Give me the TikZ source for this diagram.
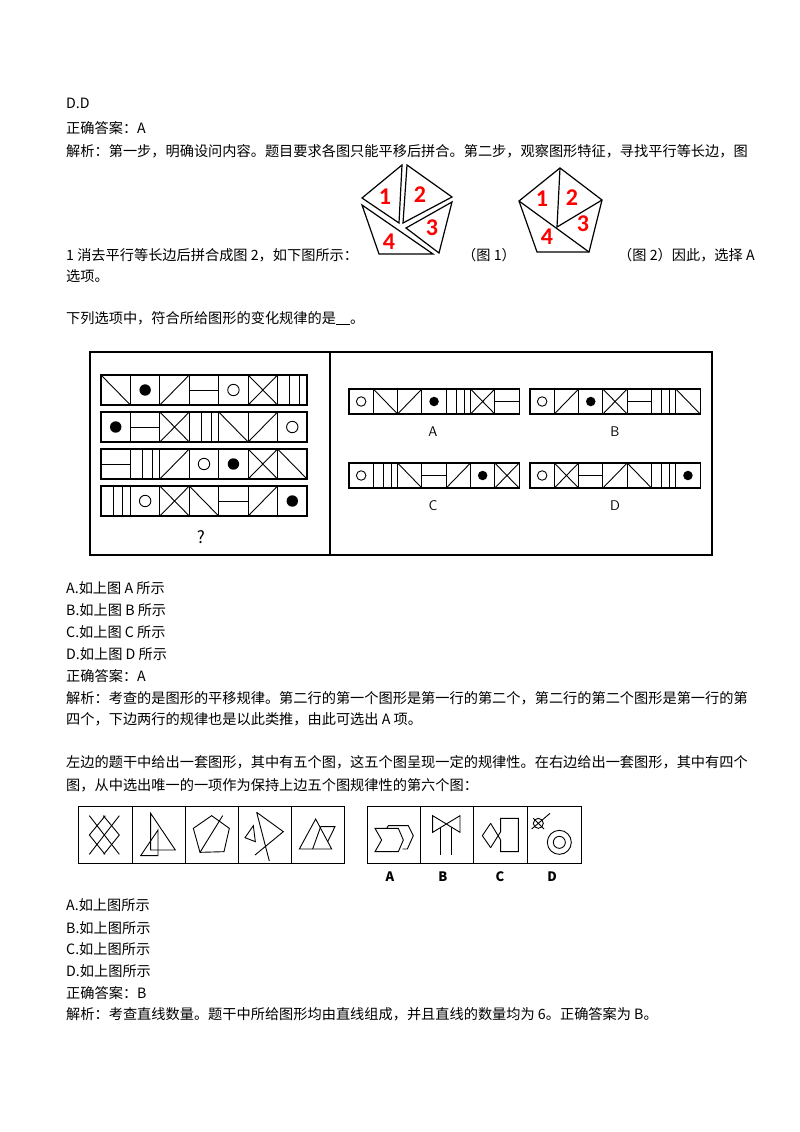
\documentclass[tikz,border=0pt]{standalone}
\usepackage{fontspec}
\setmainfont{Noto Sans CJK SC}
\newfontfamily\latf{Carlito}
\begin{document}
\begin{tikzpicture}[x=1pt,y=-1pt,
 txt/.style={anchor=west,inner sep=0pt,font=\fontsize{14.2}{16}\selectfont},
 ln/.style={line width=0.9pt},
 bx/.style={line width=1.1pt},
 red/.style={text=red,font=\latf\bfseries\fontsize{24}{24}\selectfont,inner sep=0pt},
 lab/.style={inner sep=0pt,font=\sffamily\fontsize{14}{14}\selectfont},
 slab/.style={inner sep=0pt,font=\rmfamily\bfseries\fontsize{13}{13}\selectfont}]
\useasboundingbox (0,0) rectangle (800,1132);
\fill[white] (0,0) rectangle (800,1132);
% text
\node[txt] (t1) at (66,103) {D.D};
\node[txt] (t2) at (66,128) {正确答案：A};
\node[txt] (t3) at (66,151) {解析：第一步，明确设问内容。题目要求各图只能平移后拼合。第二步，观察图形特征，寻找平行等长边，图};
\node[txt] (t4) at (66,255) {1 消去平行等长边后拼合成图 2，如下图所示：};
\node[txt] (t4b) at (462,255) {（图 1）};
\node[txt] (t4c) at (618,255) {（图 2）因此，选择 A};
\node[txt] (t5) at (66,276) {选项。};
\node[txt] (t6) at (66,318) {下列选项中，符合所给图形的变化规律的是\underline{\hspace{14pt}}。};
\node[txt] (a1) at (66,588) {A.如上图 A 所示};
\node[txt] (a2) at (66,610) {B.如上图 B 所示};
\node[txt] (a3) at (66,632) {C.如上图 C 所示};
\node[txt] (a4) at (66,654) {D.如上图 D 所示};
\node[txt] (a5) at (66,676) {正确答案：A};
\node[txt] (a6) at (66,698) {解析：考查的是图形的平移规律。第二行的第一个图形是第一行的第二个，第二行的第二个图形是第一行的第};
\node[txt] (a7) at (66,719) {四个，下边两行的规律也是以此类推，由此可选出 A 项。};
\node[txt] (b1) at (66,762) {左边的题干中给出一套图形，其中有五个图，这五个图呈现一定的规律性。在右边给出一套图形，其中有四个};
\node[txt] (b2) at (66,785) {图，从中选出唯一的一项作为保持上边五个图规律性的第六个图：};
\node[txt] (c1) at (66,905) {A.如上图所示};
\node[txt] (c2) at (66,928) {B.如上图所示};
\node[txt] (c3) at (66,949) {C.如上图所示};
\node[txt] (c4) at (66,971) {D.如上图所示};
\node[txt] (c5) at (66,993) {正确答案：B};
\node[txt] (c6) at (66,1014) {解析：考查直线数量。题干中所给图形均由直线组成，并且直线的数量均为 6。正确答案为 B。};
% pentagon fig 1
\begin{scope}[line width=1.2pt,line join=miter]
\draw (362,198)--(402,165)--(399,223)--cycle;
\draw (407,165)--(452,197)--(403,223)--cycle;
\draw (452,202)--(439,253)--(406,228)--cycle;
\draw (362,205)--(433,254)--(379,254)--cycle;
\node[red] (n1) at (385,197) {1};
\node[red] (n2) at (420,195) {2};
\node[red] (n3) at (432,228) {3};
\node[red] (n4) at (389,242) {4};
% fig 2
\draw (560,168)--(602,200)--(589,252)--(537,252)--(519,201)--cycle;
\draw (560,168)--(557,227)--(602,200);
\draw (519,201)--(589,252);
\node[red] (m1) at (542,199) {1};
\node[red] (m2) at (572,198) {2};
\node[red] (m3) at (583,224) {3};
\node[red] (m4) at (547,237) {4};
\end{scope}
% grid figure
\draw[line width=1.6pt] (90,352) rectangle (712,555);
\draw[line width=1.6pt] (330,352)--(330,555);
\newcommand{\cellpat}[5]{% #1 type, #2 x0, #3 y0, #4 w, #5 h
 \pgfmathsetmacro\cxa{#2+#4/2}\pgfmathsetmacro\cya{#3+#5/2}%
 \pgfmathsetmacro\cyb{#3+#5}\pgfmathsetmacro\cxl{#2+#4*0.42}\pgfmathsetmacro\cxr{#2+#4*0.74}%
 \pgfmathsetmacro\rr{#5*0.19}%
 \ifcase#1\relax
 \draw[ln] (#2,#3)--++(#4,#5);\or
 \fill (\cxa,\cya) circle (\rr);\or
 \draw[ln] (#2,\cyb)--++(#4,-#5);\or
 \draw[ln] (#2,\cya)--++(#4,0);\or
 \draw[ln] (\cxa,\cya) circle (\rr);\or
 \draw[ln] (#2,#3)--++(#4,#5) (#2,\cyb)--++(#4,-#5);\or
 \draw[ln] (\cxl,#3)--++(0,#5) (\cxr,#3)--++(0,#5);\fi}
\newcommand{\strip}[5]{% x0 y0 w h list
 \foreach \t [count=\i from 0] in {#5} {
   \pgfmathsetmacro\sx{#1+\i*#3}
   \draw[bx] (\sx,#2) rectangle ++(#3,#4);
   \cellpat{\t}{\sx}{#2}{#3}{#4}}}
% 0 \ ,1 dot,2 /,3 -,4 o,5 X,6 ||
\strip{101}{375}{29.43}{30}{0,1,2,3,4,5,6}
\strip{101}{412}{29.43}{30}{1,3,5,6,0,2,4}
\strip{101}{449}{29.43}{30}{3,6,2,4,1,5,0}
\strip{101}{486}{29.43}{30}{6,4,5,0,3,2,1}
\node[inner sep=0pt,font=\rmfamily\fontsize{17}{17}\selectfont] (q) at (201,537) {?};
\strip{349}{389}{24.3}{25}{4,0,2,1,6,5,3}
\strip{530}{389}{24.3}{25}{4,2,1,5,3,6,0}
\strip{349}{463}{24.3}{25}{4,6,0,3,2,1,5}
\strip{530}{463}{24.3}{25}{4,5,3,2,0,6,1}
\node[lab] (la) at (433,432) {A};
\node[lab] (lb) at (615,432) {B};
\node[lab] (lc) at (433,506) {C};
\node[lab] (ld) at (615,506) {D};
% bottom figure
\draw[line width=1pt] (78,806) rectangle (344,863);
\foreach \x in {132,185,238,291} \draw[line width=1pt] (\x,806)--(\x,863);
\draw[line width=1pt] (367,806) rectangle (581,863);
\foreach \x in {420,473,527} \draw[line width=1pt] (\x,806)--(\x,863);
\node[slab] (o1) at (390,877) {A};
\node[slab] (o2) at (443,877) {B};
\node[slab] (o3) at (500,877) {C};
\node[slab] (o4) at (552,877) {D};
\begin{scope}[shift={(70,795)},scale=1/3,line width=0.9pt]
% cell1
\draw (58,62)--(148,178) (58,120)--(105,178) (100,62)--(148,120);
\draw (148,62)--(58,178) (148,120)--(101,178) (106,62)--(58,120);
% cell2
\draw (242,55)--(316,165)--(242,165)--cycle;
\draw (264,105)--(264,182)--(212,182)--cycle;
% cell3
\draw (370,100)--(425,62)--(478,100)--(462,170)--(390,172)--cycle;
\draw (458,62)--(390,172);
% cell4
\draw (525,128)--(550,92)--(556,140)--cycle;
\draw (560,52)--(640,110)--(555,180) (560,52)--(598,198);
% cell5
\draw (737,72)--(785,162)--(688,162)--cycle;
\draw (752,95)--(795,95)--(773,140) (752,95)--(728,162);
% A
\draw (915,100)--(985,100)--(1000,135)--(985,170)--(915,170)--(935,135)--cycle;
\draw (950,100)--(955,92)--(1015,92)--(1030,122)--(1012,162)--(998,162);
% B
\draw (1088,62)--(1088,112)--(1170,62)--(1170,112)--cycle;
\draw (1110,95)--(1110,180) (1145,95)--(1145,180);
% C
\draw (1262,85)--(1237,122)--(1262,158);
\draw (1262,85)--(1292,135)--(1292,170)--(1345,170)--(1345,70)--(1292,70)--(1292,110)--(1262,158);
% D
\draw (1405,85) circle (15);
\draw (1385,102)--(1440,55) (1390,70)--(1422,102);
\draw (1468,142) circle (36) (1468,142) circle (18);
\end{scope}
\end{tikzpicture}
\end{document}
